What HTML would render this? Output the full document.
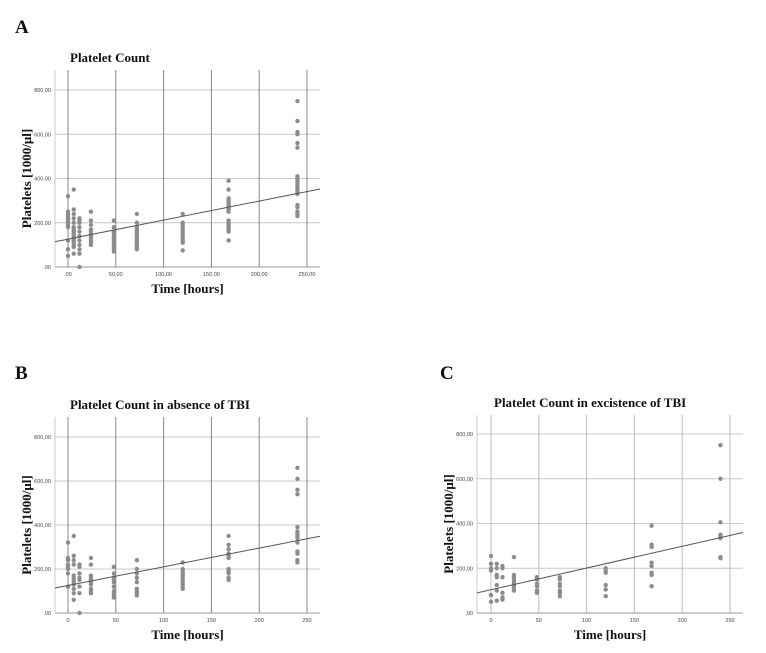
<!DOCTYPE html>
<html><head><meta charset="utf-8">
<style>
html,body{margin:0;padding:0;background:#fff;}
svg{display:block;}
.tick{font-family:"Liberation Sans",sans-serif;font-size:5.5px;fill:#444;}
.ttl{font-family:"Liberation Serif",serif;font-weight:bold;font-size:13px;fill:#111;}
.ax{font-family:"Liberation Serif",serif;font-weight:bold;font-size:13px;fill:#111;}
.pl{font-family:"Liberation Serif",serif;font-weight:bold;font-size:19px;fill:#111;}
</style></head>
<body>
<svg id="fig" width="766" height="653" viewBox="0 0 766 653">
<text class="pl" x="15" y="33">A</text>
<text class="pl" x="15" y="379">B</text>
<text class="pl" x="440" y="379">C</text>
</svg>
<script>
const times = [0, 6, 12, 24, 48, 72, 120, 168, 240];
const yTicks = [0, 200, 400, 600, 800];
const xTicks = [0, 50, 100, 150, 200, 250];
const xTickLabelsA = [".00", "50,00", "100,00", "150,00", "200,00", "250,00"];
const xTickLabelsBC = ["0", "50", "100", "150", "200", "250"];
const yTickLabels = [",00", "200,00", "400,00", "600,00", "800,00"];
const yTickLabelsA = [".00", "200,00", "400,00", "600,00", "800,00"];
// platelet values per time group
const valuesA = [
 [50,80,120,180,190,200,210,220,230,240,250,320],
 [60,90,100,110,120,130,140,150,160,170,180,200,220,240,260,350],
 [0,60,80,100,120,140,160,180,200,210,220],
 [100,110,120,130,140,150,160,170,190,210,250],
 [70,80,90,100,110,120,130,140,150,160,180,210],
 [80,90,100,110,120,130,140,150,160,170,180,200,240],
 [75,110,120,130,140,150,160,170,180,190,200,240],
 [120,160,170,180,190,200,210,250,260,270,280,290,300,310,350,390],
 [230,240,250,270,280,330,340,350,360,370,380,390,400,410,540,560,600,610,660,750]
];
const valuesB = [
 [120,180,200,210,220,240,250,320],
 [60,90,110,130,140,150,160,170,220,240,260,350],
 [0,90,120,150,160,180,210,220],
 [90,100,110,130,140,150,160,170,220,250],
 [70,80,90,100,120,140,150,160,180,210],
 [80,90,100,110,140,160,180,200,240],
 [110,120,130,140,150,160,170,180,190,200,230],
 [150,160,180,190,200,250,260,270,290,310,350],
 [230,240,270,280,320,340,350,360,370,390,540,560,610,660]
];
const valuesC = [
 [50,80,190,200,220,255],
 [55,100,125,160,170,200,220],
 [60,70,90,160,200,210],
 [100,110,120,130,140,150,160,170,250],
 [90,100,120,130,150,160],
 [75,90,100,120,130,150,160],
 [75,105,125,180,190,200],
 [120,170,180,210,225,295,305,390],
 [245,250,335,345,350,405,600,750]
];
// regression: [intercept, slope]
const regA = [126, 0.86];
const regB = [125, 0.85];
const regC = [104, 0.97];

const NS = "http://www.w3.org/2000/svg";
const svg = document.getElementById("fig");
function mk(tag, attrs, parent){
  const e = document.createElementNS(NS, tag);
  for (const k in attrs) e.setAttribute(k, attrs[k]);
  (parent||svg).appendChild(e);
  return e;
}
function chart(cfg){
  const g = mk("g", {});
  
  
  const xs = v => cfg.x0 + (v - 0) * (cfg.x250 - cfg.x0) / 250;
  const ys = v => cfg.y0 - v * (cfg.y0 - cfg.y800) / 800;
  const tmin = (cfg.L - cfg.x0) * 250 / (cfg.x250 - cfg.x0);
  const tmax = (cfg.R - cfg.x0) * 250 / (cfg.x250 - cfg.x0);
  // horizontal grid
  yTicks.forEach((v, i) => {
    if (v > 0) {
      const l = mk("line", {x1: cfg.L, x2: cfg.R, y1: ys(v), y2: ys(v), stroke: "#c8c8c8", "stroke-width": 1}, g);
      
      
    }
    const t = mk("text", {x: cfg.L - 4, y: ys(v) + 2, "text-anchor": "end", class: "tick"}, g);
    
    
    t.textContent = cfg.yLabels[i];
  });
  xTicks.forEach((v, i) => {
    const l = mk("line", {x1: xs(v), x2: xs(v), y1: cfg.T, y2: cfg.B, stroke: cfg.vcol, "stroke-width": 1}, g);
    
    
    const t = mk("text", {x: xs(v), y: cfg.B + 9, "text-anchor": "middle", class: "tick"}, g);
    
    
    t.textContent = cfg.xLabels[i];
  });
  const ax = mk("line", {x1: cfg.L, x2: cfg.R, y1: cfg.B, y2: cfg.B, stroke: "#999", "stroke-width": 1}, g);
  
  
  const ay = mk("line", {x1: cfg.L, x2: cfg.L, y1: cfg.T, y2: cfg.B, stroke: "#ccc", "stroke-width": 1}, g);
  
  
  // points
  cfg.values.forEach((arr, i) => {
    arr.forEach(v => {
      const c = mk("circle", {cx: xs(times[i]), cy: ys(v), r: 2.2, fill: "#8c8c8c"}, g);
      
      
    });
  });
  const rl = mk("line", {x1: cfg.L, y1: ys(cfg.reg[0] + cfg.reg[1] * tmin), x2: cfg.R, y2: ys(cfg.reg[0] + cfg.reg[1] * tmax), stroke: "#555", "stroke-width": 1}, g);
  
  
  const tt = mk("text", {x: cfg.titleX, y: cfg.T - 8, class: "ttl"}, g);
  
  
  tt.textContent = cfg.title;
  const xt = mk("text", {x: (cfg.L + cfg.R) / 2, y: cfg.B + 26, "text-anchor": "middle", class: "ax"}, g);
  
  
  xt.textContent = "Time [hours]";
  const cy = (cfg.T + cfg.B) / 2 + 10;
  const yt = mk("text", {x: cfg.L - 24, y: cy, "text-anchor": "middle", class: "ax", transform: `rotate(-90 ${cfg.L - 24} ${cy})`}, g);
  
  
  yt.textContent = "Platelets [1000/\u03BCl]";
}
chart({name: "chart-a", L: 55, R: 320, T: 70, B: 267, x0: 68, x250: 307, y0: 267, y800: 90,
  values: valuesA, reg: regA, title: "Platelet Count", titleX: 70, vcol: "#888",
  xLabels: xTickLabelsA, yLabels: yTickLabelsA});
chart({name: "chart-b", L: 55, R: 320, T: 417, B: 613, x0: 68, x250: 307, y0: 613, y800: 437,
  values: valuesB, reg: regB, title: "Platelet Count in absence of TBI", titleX: 70, vcol: "#888",
  xLabels: xTickLabelsBC, yLabels: yTickLabelsA});
chart({name: "chart-c", L: 477, R: 743, T: 415, B: 613, x0: 491, x250: 730, y0: 613, y800: 434,
  values: valuesC, reg: regC, title: "Platelet Count in excistence of TBI", titleX: 494, vcol: "#bbb",
  xLabels: xTickLabelsBC, yLabels: yTickLabels});
</script>
</body></html>
